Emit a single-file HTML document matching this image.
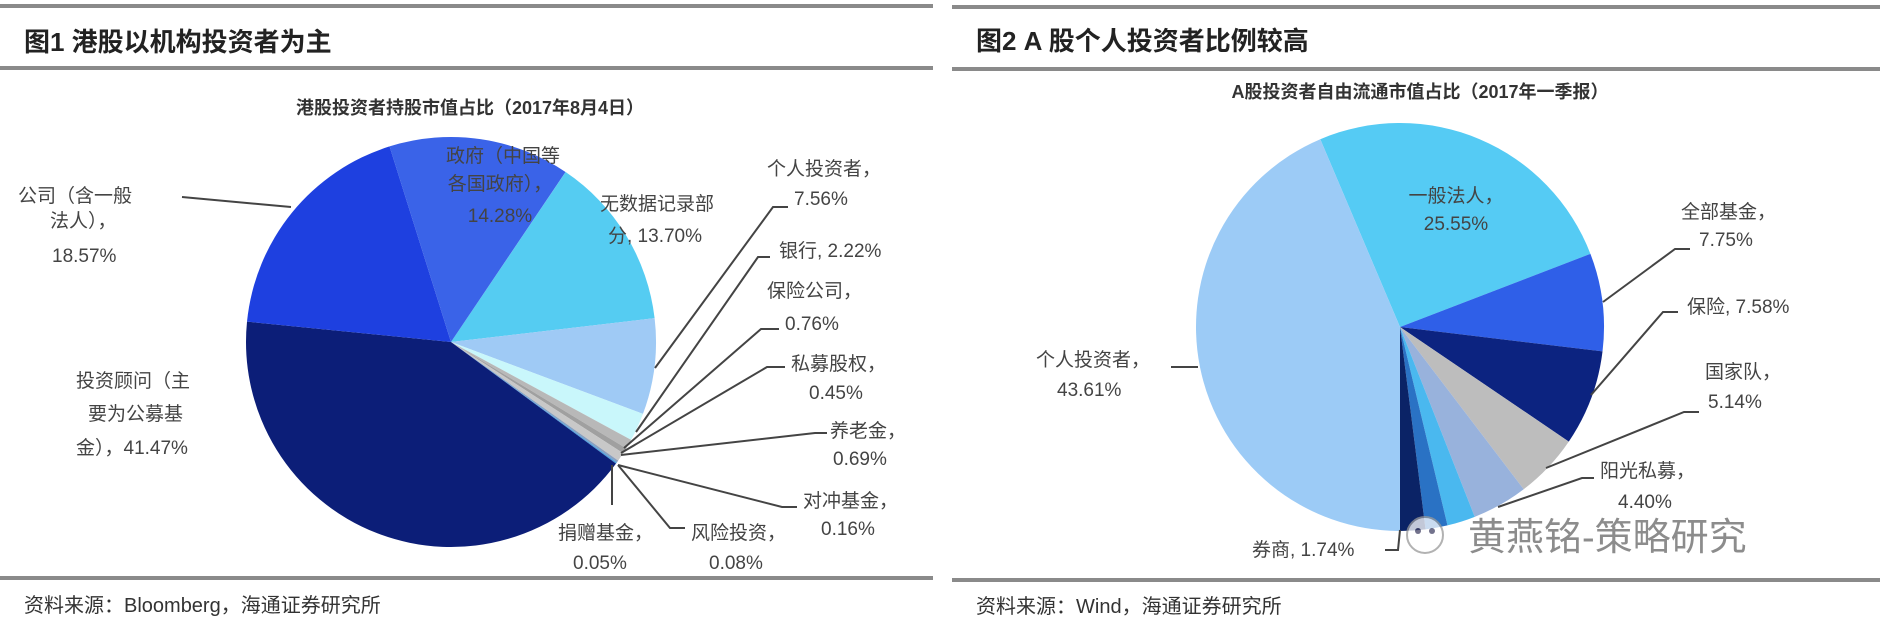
<!DOCTYPE html>
<html><head><meta charset="utf-8"><style>
html,body{margin:0;padding:0;background:#fff;width:1880px;height:635px;overflow:hidden}
svg{display:block}
text{font-family:"Liberation Sans","Noto Sans CJK SC",sans-serif;fill:#444}
.t{font-size:26px;font-weight:bold;fill:#222}
.ct{font-size:18px;font-weight:bold;fill:#333}
.l{font-size:19px;fill:#555}
.s{font-size:20px;fill:#333}
line,polyline{stroke:#444;stroke-width:2;fill:none}
</style></head><body>
<svg id="g" width="1880" height="635" viewBox="0 0 1880 635">
<rect x="0" y="4" width="933" height="4" fill="#8a8a8a"/>
<rect x="0" y="66" width="933" height="4" fill="#8a8a8a"/>
<rect x="0" y="576" width="933" height="4" fill="#8a8a8a"/>
<rect x="952" y="5" width="928" height="4" fill="#8a8a8a"/>
<rect x="952" y="67" width="928" height="4" fill="#8a8a8a"/>
<rect x="952" y="578" width="928" height="4" fill="#8a8a8a"/>
<text class="t" x="24" y="51">图1  港股以机构投资者为主</text>
<text class="t" x="976" y="50">图2  A 股个人投资者比例较高</text>
<text class="ct" x="470" y="114" text-anchor="middle">港股投资者持股市值占比（2017年8月4日）</text>
<text class="ct" x="1420" y="98" text-anchor="middle">A股投资者自由流通市值占比（2017年一季报）</text>
<g id="p1"></g><g id="p2"></g>
<g class="l">
<text x="18" y="202">公司（含一般</text><text x="50" y="227">法人），</text><text x="52" y="262">18.57%</text>
<text x="503" y="162" text-anchor="middle" fill="#333">政府（中国等</text><text x="500" y="190" text-anchor="middle" fill="#333">各国政府），</text><text x="500" y="222" text-anchor="middle" fill="#333">14.28%</text>
<text x="600" y="210">无数据记录部</text><text x="608" y="242">分, 13.70%</text>
<text x="767" y="175">个人投资者，</text><text x="794" y="205">7.56%</text>
<text x="779" y="257">银行, 2.22%</text>
<text x="767" y="297">保险公司，</text><text x="785" y="330">0.76%</text>
<text x="791" y="370">私募股权，</text><text x="809" y="399">0.45%</text>
<text x="830" y="437">养老金，</text><text x="833" y="465">0.69%</text>
<text x="803" y="507">对冲基金，</text><text x="821" y="535">0.16%</text>
<text x="558" y="539">捐赠基金，</text><text x="573" y="569">0.05%</text>
<text x="691" y="539">风险投资，</text><text x="709" y="569">0.08%</text>
<text x="76" y="387">投资顾问（主</text><text x="88" y="420">要为公募基</text><text x="76" y="454">金），41.47%</text>
<text x="1456" y="202" text-anchor="middle" fill="#333">一般法人，</text><text x="1456" y="230" text-anchor="middle" fill="#333">25.55%</text>
<text x="1681" y="218">全部基金，</text><text x="1699" y="246">7.75%</text>
<text x="1687" y="313">保险, 7.58%</text>
<text x="1705" y="378">国家队，</text><text x="1708" y="408">5.14%</text>
<text x="1600" y="477">阳光私募，</text><text x="1618" y="508">4.40%</text>
<text x="1036" y="366">个人投资者，</text><text x="1057" y="396">43.61%</text>
<text x="1252" y="556">券商, 1.74%</text>
</g>
<polyline points="182,197 291,207"/>
<polyline points="788,207 773,207 655,368"/>
<polyline points="770,257 758,257 636,432"/>
<polyline points="779,329 761,329 624,448"/>
<polyline points="785,367 767,367 621,453"/>
<polyline points="827,433 815,433 621,455"/>
<polyline points="797,507 782,507 618,465"/>
<polyline points="685,528 670,528 618,465"/>
<polyline points="612,465 612,505"/>
<polyline points="1690,249 1675,249 1603,302"/>
<polyline points="1678,312 1663,312 1591,395"/>
<polyline points="1699,412 1684,412 1546,468"/>
<polyline points="1594,478 1582,478 1498,507"/>
<polyline points="1171,367 1198,367"/>
<polyline points="1385,550 1398,550 1400,530"/>
<g opacity="0.75">
<circle cx="1425" cy="535" r="18" fill="#fff" stroke="#999" stroke-width="2"/>
<circle cx="1418" cy="531" r="3" fill="#446"/><circle cx="1432" cy="531" r="3" fill="#446"/>
<text x="1468" y="550" style="font-size:38px;fill:#666">黄燕铭-策略研究</text>
</g>
<text class="s" x="24" y="612">资料来源：Bloomberg，海通证券研究所</text>
<text class="s" x="976" y="613">资料来源：Wind，海通证券研究所</text>
</svg>
<script>
function pie(id,cx,cy,r,start,data){
 var g=document.getElementById(id),a=start*Math.PI/180,h='';
 data.forEach(function(d){
  var b=a+d[0]/100*2*Math.PI;
  var x1=cx+r*Math.cos(a),y1=cy+r*Math.sin(a),x2=cx+r*Math.cos(b),y2=cy+r*Math.sin(b);
  var lg=(b-a)>Math.PI?1:0;
  h+='<path d="M'+cx+','+cy+' L'+x1+','+y1+' A'+r+','+r+' 0 '+lg+' 1 '+x2+','+y2+' Z" fill="'+d[1]+'"/>';
  a=b;
 });
 g.innerHTML=h;
}
pie('p1',451,342,205,-56,[[13.70,'#55ccf2'],[7.56,'#9fcaf5'],[2.22,'#c9f7fb'],[0.76,'#b8b8b8'],[0.45,'#a0a0a0'],[0.69,'#c8c8c8'],[0.16,'#8aa0c0'],[0.08,'#4aa0e0'],[0.05,'#3a8ad0'],[41.47,'#0c1e78'],[18.57,'#1e40e0'],[14.28,'#3a63e8']]);
pie('p2',1400,327,204,-113,[[25.55,'#55cbf4'],[7.75,'#2f5fe8'],[7.58,'#0c2380'],[5.14,'#bdbdbd'],[4.40,'#98b2dc'],[2.23,'#4ab8ef'],[1.74,'#2a72c4'],[2.00,'#0b2366'],[43.61,'#9ccbf6']]);
</script>
</body></html>
